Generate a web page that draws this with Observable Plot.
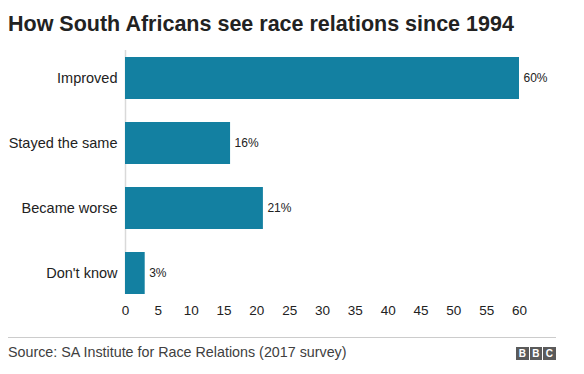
<!DOCTYPE html>
<html>
<head>
<meta charset="utf-8">
<script src="https://cdn.jsdelivr.net/npm/d3@7"></script>
<script src="https://cdn.jsdelivr.net/npm/@observablehq/plot@0.6"></script>
<style>
  html, body { margin: 0; padding: 0; background: #fff; }
  body { width: 584px; height: 374px; position: relative; overflow: hidden; font-family: "Liberation Sans", Arial, Helvetica, sans-serif; }
  #title { position: absolute; left: 8px; top: 12px; font-size: 21.5px; font-weight: bold; color: #222; white-space: nowrap; }
  #chart { position: absolute; left: 0; top: 45px; }
  #rule { position: absolute; left: 8px; top: 337px; width: 548px; height: 0; border-top: 1px solid #ccc; }
  #source { position: absolute; left: 8px; top: 344px; font-size: 14.3px; color: #404040; white-space: nowrap; }
  #bbc { position: absolute; left: 516px; top: 347px; display: flex; gap: 1px; }
  #bbc span { display: inline-block; width: 12.5px; height: 13px; background: #5a5a5a; color: #fff; font-size: 10px; font-weight: bold; line-height: 13px; text-align: center; }
</style>
</head>
<body>
<div id="title">How South Africans see race relations since 1994</div>
<div id="chart"></div>
<div id="rule"></div>
<div id="source">Source: SA Institute for Race Relations (2017 survey)</div>
<div id="bbc"><span>B</span><span>B</span><span>C</span></div>
<script>
const categories = ["Improved", "Stayed the same", "Became worse", "Don't know"];
const values = [60, 16, 21, 3];
const xTicks = [0, 5, 10, 15, 20, 25, 30, 35, 40, 45, 50, 55, 60];

const data = categories.map((c, i) => ({category: c, value: values[i]}));

const chart = Plot.plot({
  width: 584,
  height: 279,
  marginTop: 5,
  marginBottom: 30,
  marginLeft: 125,
  marginRight: 65,
  style: {fontFamily: "'Liberation Sans', Arial, Helvetica, sans-serif", color: "#222", background: "#fff"},
  x: {domain: [0, 60], ticks: xTicks, label: null, tickSize: 0, tickPadding: 11},
  y: {domain: categories, range: [12, 249], padding: 0.354, paddingOuter: 0, label: null, tickSize: 0, tickPadding: 8},
  marks: [
    Plot.ruleX([0], {stroke: "#d9d9d9", strokeWidth: 1.5}),
    Plot.barX(data, {x: "value", y: "category", fill: "#1380a1"}),
    Plot.text(data, {x: "value", y: "category", text: d => d.value + "%", textAnchor: "start", dx: 4, fontSize: 12, fill: "#222"}),
    Plot.axisX({ticks: xTicks, tickSize: 0, tickPadding: 11, fontSize: 13.5, label: null}),
    Plot.axisY({tickSize: 0, tickPadding: 8, fontSize: 14.5, label: null})
  ]
});
document.getElementById("chart").appendChild(chart);
</script>
</body>
</html>
